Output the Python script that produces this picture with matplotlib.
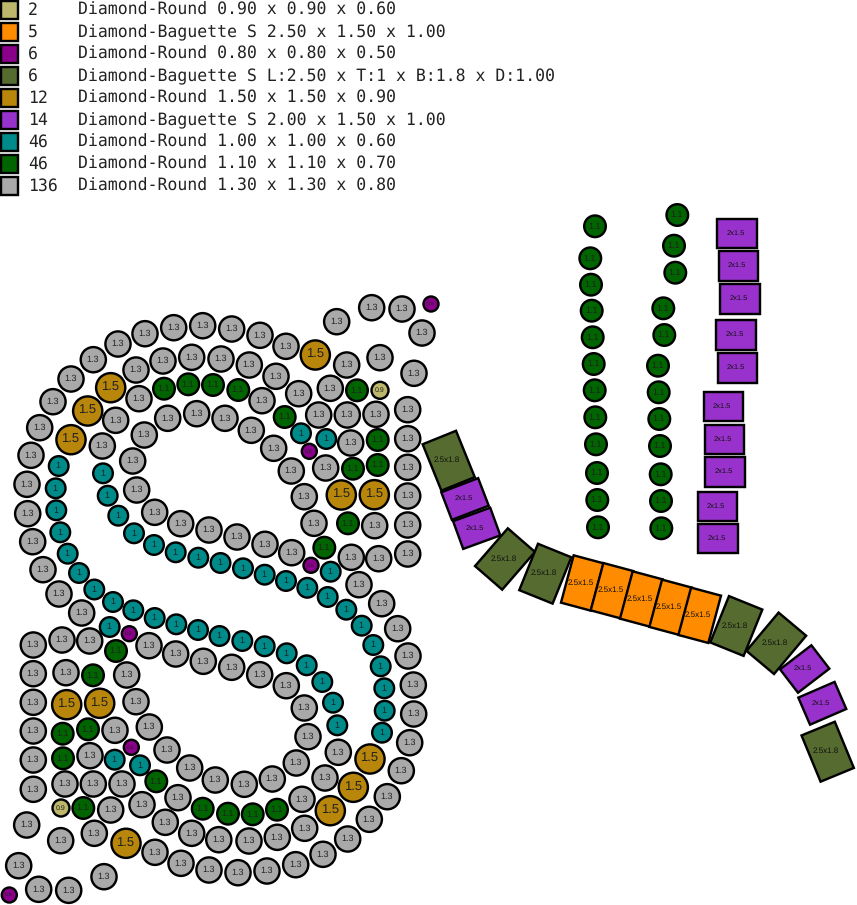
import matplotlib
matplotlib.use("Agg")
import matplotlib.pyplot as plt
from matplotlib.patches import Circle, Rectangle
from matplotlib.transforms import Affine2D

plt.rcParams["text.hinting"] = "none"  # keeps the mono column widths exact

# legend rows
legend_counts = ["2", "5", "6", "6", "12", "14", "46", "46", "136"]
legend_names = [
    "Diamond-Round 0.90 x 0.90 x 0.60",
    "Diamond-Baguette S 2.50 x 1.50 x 1.00",
    "Diamond-Round 0.80 x 0.80 x 0.50",
    "Diamond-Baguette S L:2.50 x T:1 x B:1.8 x D:1.00",
    "Diamond-Round 1.50 x 1.50 x 0.90",
    "Diamond-Baguette S 2.00 x 1.50 x 1.00",
    "Diamond-Round 1.00 x 1.00 x 0.60",
    "Diamond-Round 1.10 x 1.10 x 0.70",
    "Diamond-Round 1.30 x 1.30 x 0.80",
]
legend_colors = ["darkkhaki", "darkorange", "darkmagenta", "darkolivegreen", "darkgoldenrod",
                 "darkorchid", "darkcyan", "darkgreen", "darkgray"]

# stone centres, in picture pixels
round_09 = [(380, 390.3), (61, 808)]
round_08 = [(431, 304), (309.3, 451.3), (311, 565.3), (129.3, 633.7), (131.3, 747.3), (9.3, 895)]
round_15 = [(110.7, 387.7), (87.7, 411), (71, 439.7), (315.3, 355), (341.3, 495), (374.3, 494.7),
            (66.7, 704.7), (99.7, 703.3), (126, 843.3), (370, 759), (353.3, 787.3), (330.3, 810.7)]
round_10 = [(58.7, 466), (55.7, 488.3), (56.3, 510.3), (60.3, 532.3), (67.7, 553.7), (79, 573),
            (94.3, 589.5), (113, 602), (133.3, 610.3), (154.7, 618), (176.3, 624.3), (198, 630),
            (219.5, 636), (242.3, 641), (264.7, 646.3), (286.7, 653.3), (306.7, 665.3), (322.3, 682),
            (333, 702.7), (337.3, 725.3), (109.7, 627), (114.7, 759.7), (140, 765.3),
            (103, 473.3), (107.7, 495.7), (118.3, 515.7), (134, 533.3), (154, 545), (175.7, 552.3),
            (198.3, 557.7), (220.5, 563), (243, 568.3), (264.7, 574.7), (286, 581), (307.3, 587.8),
            (327.7, 597), (346.3, 609.7), (361.7, 625.7), (373.3, 645), (380.7, 666.3), (384.3, 688.3),
            (384.7, 710.7), (382, 732.7), (301, 433.3), (326.3, 439), (330.7, 571.7)]
round_11 = [(164, 388.7), (188.3, 384.3), (213, 385), (238.3, 390), (357, 390.3), (284.7, 417),
            (377.7, 440), (377.7, 465), (353, 468.7), (348, 523.3), (324.3, 547.7),
            (116, 651), (93, 675.3), (62.7, 733.7), (88, 729.3), (63, 758.3), (156.3, 781.3),
            (83.3, 808), (202.7, 808.7), (228, 813.7), (252.7, 814.3), (277, 809.7),
            # the two loose columns
            (595, 226.3), (590.3, 258.3), (591, 284.7), (591.7, 310.7), (592.7, 337.3), (593.7, 364),
            (594.7, 390.3), (595.3, 417.3), (596, 444.3), (597, 473), (597.3, 500), (598, 527.3),
            (677.3, 215), (674, 245.7), (675.3, 272.7), (663.3, 308.3), (664.3, 335), (658, 365.7),
            (658.7, 392.3), (659.3, 419), (660, 446), (660.7, 474.3), (661, 501), (661.3, 528.3)]
round_13 = [(173.7, 327.7), (202.7, 325.7), (145, 333.7), (118, 344), (93.3, 359.7), (71, 379),
            (53, 401.7), (39.7, 427.7), (31, 455.3), (27, 484.3), (27.7, 513.7), (32.7, 541.7),
            (43, 569.7), (59, 594), (136, 370), (163, 361), (191.7, 357.3), (139, 398.7),
            (115.7, 420.3), (102.3, 446), (167.7, 418.3), (196.7, 413.7), (144.3, 435), (132.7, 461),
            (136.7, 490), (154.7, 512.3), (180.7, 523.7), (209, 530),
            (371.7, 307.7), (402, 309), (336.7, 321.7), (422, 333), (231.7, 329), (260, 335.3),
            (286, 346.3), (346.7, 365), (380, 357.7), (414, 373.3), (221, 359), (249.3, 365),
            (276, 376.3), (298.7, 393.7), (330.3, 388.3), (262, 400.7), (318.7, 415), (347.3, 415),
            (376, 414.3), (407.7, 409.7), (225, 418.3), (251.3, 430.3), (273.7, 448.3), (350.7, 443),
            (407.7, 438.7), (291.3, 471), (325.7, 468), (407.7, 467.3), (304.3, 496.7), (407.7, 496),
            (314, 523.3), (374.7, 525.7), (407.7, 525), (407.7, 554), (378.7, 558.7), (351.3, 557.3),
            (291.7, 552.7), (265, 544.3), (237, 537), (359, 584.7),
            (81.7, 613), (33.3, 645), (62, 640), (89.7, 641), (149, 645.7), (175.7, 654), (203.3, 661.3),
            (33.3, 673.7), (66, 672.7), (126.7, 675), (33.3, 702.3), (136, 701.7), (33.3, 731),
            (115, 730.3), (149.3, 727), (33.3, 760), (90, 755.7), (167, 750), (189.7, 768), (215.3, 780),
            (33.3, 789.3), (65, 784), (93.3, 784), (122, 784), (178, 797.7), (142, 804.7), (110.7, 810),
            (165.3, 822.3), (191.7, 833.3), (218.8, 839.7), (94.3, 833.3), (26.7, 825), (60.7, 840.7),
            (155, 852.3), (181, 863.3), (209, 870), (18.7, 865.7), (104, 876.7), (38.7, 889.3), (68.7, 890.3),
            (381.7, 603.7), (397.7, 628.7), (408, 656), (413.3, 685), (413.7, 714), (409.7, 742.7),
            (401.3, 770.7), (387.3, 796.7), (369.3, 819.3), (347.7, 839), (323, 854.3), (295.7, 864.7),
            (267, 871), (238, 872.7), (231.7, 667.3), (259.7, 674.7), (286.3, 685.7), (304.3, 708),
            (308, 736.7), (338.3, 752.3), (296.3, 763), (325, 778), (272.3, 779), (244.3, 784.3),
            (302, 799.3), (304.7, 828.3), (277.3, 837.3), (249, 841)]

# baguettes: centre x, centre y, turn in degrees
baguette_25x15 = [(582.3, 583, 15), (612, 590.7, 15), (641.3, 599, 15), (670.7, 607.3, 15), (699.7, 615.3, 15)]
baguette_25x18 = [(448.7, 460.7, -22), (505, 559, 41), (545.3, 573.7, 22), (736.3, 626, 22),
                  (776.3, 643.3, 40), (827.7, 751.7, -22.4)]
baguette_20x15 = [(737, 233.3, 0), (738.7, 266, 0), (740, 299, 0), (736, 335, 0), (737.3, 368, 0),
                  (723.7, 406.7, 0), (724.3, 439.3, 0), (725, 472, 0), (717.7, 506.3, 0), (718, 538.7, 0),
                  (465, 499, -21), (476.7, 528.3, -20), (804.7, 669, -37.5), (822.3, 703.3, -23.4)]

W, H = 857, 905
fig = plt.figure(figsize=(W / 100, H / 100), dpi=100)
ax = fig.add_axes([0, 0, 1, 1])
ax.set_xlim(0, W)
ax.set_ylim(H, 0)
ax.axis("off")

px = 0.72  # one pixel in points at dpi 100
EDGE = 2.4 * px


def draw_rounds(points, radius, color, label, font_px):
    for x, y in points:
        ax.add_patch(Circle((x, y), radius, facecolor=color, edgecolor="black", linewidth=EDGE))
        ax.text(x - 0.5, y, label, fontsize=font_px * px, ha="center", va="center",
                family="Liberation Sans", color="#222222")


def draw_baguettes(stones, width, height, color, label, font_px):
    for x, y, angle in stones:
        turn = Affine2D().rotate_deg_around(x, y, angle) + ax.transData
        ax.add_patch(Rectangle((x - width / 2, y - height / 2), width, height, facecolor=color,
                               edgecolor="black", linewidth=EDGE, transform=turn))
        ax.text(x - 1.5, y - 0.5, label, fontsize=font_px * px, ha="center", va="center",
                family="Liberation Sans", color="#111111")


draw_rounds(round_13, 12.6, "darkgray", "1.3", 9)
draw_rounds(round_11, 10.8, "darkgreen", "1.1", 9)
draw_rounds(round_10, 9.8, "darkcyan", "1", 9)
draw_rounds(round_15, 14.6, "darkgoldenrod", "1.5", 13)
draw_rounds(round_09, 8.5, "darkkhaki", "0.9", 7)
draw_rounds(round_08, 7.5, "darkmagenta", "0.8", 5.5)

draw_baguettes(baguette_25x18, 36, 50, "darkolivegreen", "2.5x1.8", 8)
draw_baguettes(baguette_25x15, 31, 49, "darkorange", "2.5x1.5", 8)
draw_baguettes(baguette_20x15, 39.5, 29.5, "darkorchid", "2x1.5", 7.5)

# legend at the top left
for i, (count, name, color) in enumerate(zip(legend_counts, legend_names, legend_colors)):
    ax.add_patch(Rectangle((1, 1 + 22 * i), 17, 18, facecolor=color, edgecolor="black", linewidth=EDGE))
    ax.text(28, 15 + 22 * i, count, fontsize=16.5 * px, family="DejaVu Sans Mono", va="baseline", color="#222222")
    ax.text(78, 15 + 22 * i, name, fontsize=16.5 * px, family="DejaVu Sans Mono", va="baseline", color="#222222")

fig.savefig("out.png", dpi=100, facecolor="white")
